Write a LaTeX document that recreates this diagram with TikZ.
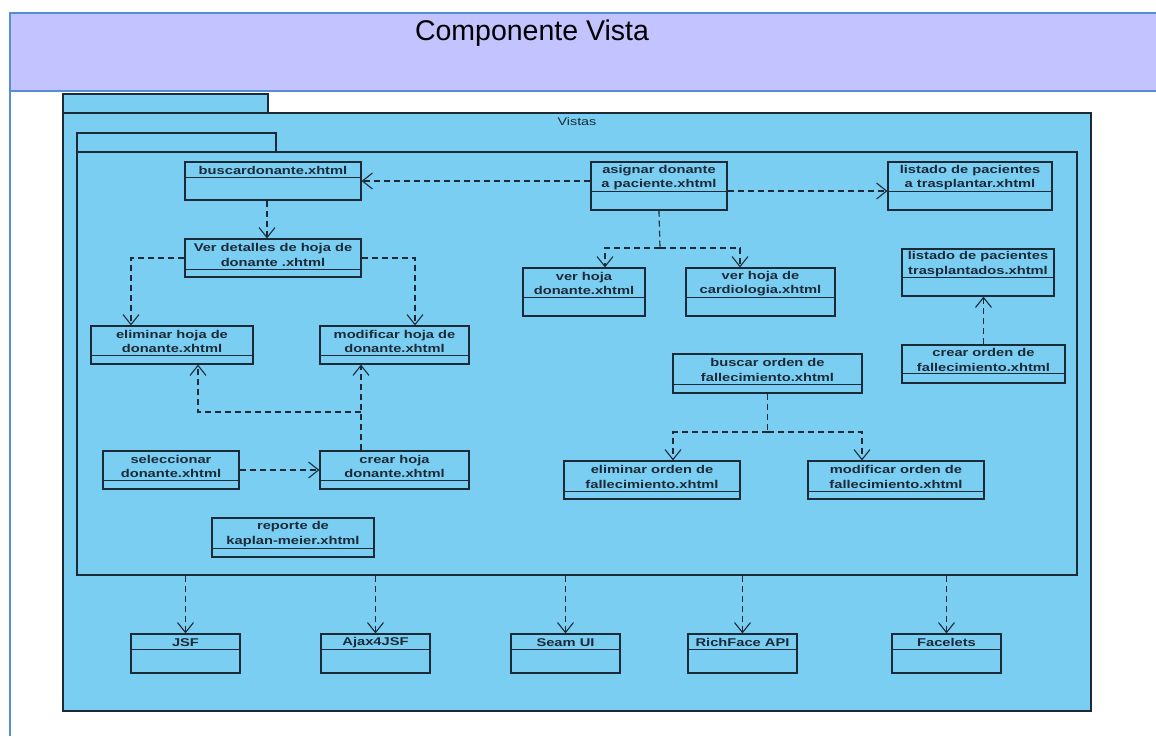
\documentclass[tikz,border=0pt]{standalone}
\usepackage{fontspec}
\setmainfont{Liberation Sans}
\newfontfamily\umlfont{Liberation Sans}[FakeStretch=1.3]
\usetikzlibrary{arrows.meta,fit}

\definecolor{headfill}{RGB}{195,195,255}
\definecolor{headline}{RGB}{85,142,213}
\definecolor{pkgfill}{RGB}{122,206,242}
\definecolor{ink}{RGB}{28,42,56}

\tikzset{
  pkg/.style={draw=ink, fill=pkgfill, line width=1.1pt, inner sep=0pt},
  umlbox/.style={draw=ink, line width=1.2pt, inner sep=0pt},
  divider/.style={draw=ink, line width=1pt},
  classname/.style={font=\umlfont\bfseries\fontsize{11.3}{14.5}\selectfont,
    text=ink, align=center, inner sep=0pt},
  trunk/.style={draw=ink, line width=1.2pt, dash pattern=on 6pt off 4pt},
  dep/.style={trunk, -{Straight Barb[length=10pt,width=16pt,line width=1.1pt]}},
}

% class box: name, x1, y1, x2, y2, divider y, title
\newcommand\umlclass[7]{%
  \node[umlbox, fit={(#2,#3) (#4,#5)}] (#1) {};
  \draw[divider] (#2,#6) -- (#4,#6);
  \node[classname] (#1-name) at ({(#2+#4)/2},{(#3+#6)/2+1.2}) {#7};
}

\begin{document}
\begin{tikzpicture}[x=1pt, y=-1pt]
\useasboundingbox (0,0) rectangle (1156,736);
\fill[white] (0,0) rectangle (1156,736);

% title band
\fill[headfill] (10,12.5) rectangle (1156,91);
\draw[headline, line width=2pt] (1156,12.5) -- (10,12.5) -- (10,736);
\draw[headline, line width=2pt] (10,91) -- (1156,91);
\node[anchor=base, font=\fontsize{28.5}{32}\selectfont, inner sep=0pt] (title) at (532,40) {Componente Vista};

% packages
\node[pkg, fit={(63,94) (268,113)}] (vtab) {};
\node[pkg, fit={(63,113) (1091,711)}] (vistas) {};
\node[font=\umlfont\fontsize{11}{13}\selectfont, text=ink, inner sep=0pt] (vlabel) at (577,122) {Vistas};
\node[pkg, fit={(77,133) (276,152)}] (itab) {};
\node[pkg, fit={(77,152) (1077,575)}] (inner) {};

% classes
\umlclass{bus}{185}{162}{361}{200}{177}{buscardonante.xhtml}
\umlclass{ver}{185}{239}{361}{277}{269}{Ver detalles de hoja de\\donante .xhtml}
\umlclass{elim}{91}{326}{253}{364}{355}{eliminar hoja de\\donante.xhtml}
\umlclass{mod}{320}{326}{469}{364}{355}{modificar hoja de\\donante.xhtml}
\umlclass{asig}{591}{162}{727}{210}{191}{asignar donante\\a paciente.xhtml}
\umlclass{ltr}{888}{162}{1052}{210}{191}{listado de pacientes\\a trasplantar.xhtml}
\umlclass{vhd}{523}{268}{645}{316}{297}{ver hoja\\donante.xhtml}
\umlclass{vhc}{686}{268}{835}{316}{297}{ver hoja de\\cardiologia.xhtml}
\umlclass{ltd}{902}{249}{1054}{296}{277}{listado de pacientes\\trasplantados.xhtml}
\umlclass{cor}{902}{345}{1065}{383}{373}{crear orden de\\fallecimiento.xhtml}
\umlclass{bor}{673}{354}{862}{393}{384}{buscar orden de\\fallecimiento.xhtml}
\umlclass{eor}{564}{461}{740}{499}{491}{eliminar orden de\\fallecimiento.xhtml}
\umlclass{mor}{808}{461}{984}{499}{491}{modificar orden de\\fallecimiento.xhtml}
\umlclass{sel}{103}{451}{239}{489}{480}{seleccionar\\donante.xhtml}
\umlclass{ch}{320}{451}{469}{489}{480}{crear hoja\\donante.xhtml}
\umlclass{rep}{212}{518}{374}{557}{548}{reporte de\\kaplan-meier.xhtml}

\umlclass{jsf}{131}{634}{240}{673}{649}{JSF}
\umlclass{ajax}{321}{634}{430}{673}{649}{Ajax4JSF}
\umlclass{seam}{511}{634}{620}{673}{649}{Seam UI}
\umlclass{rich}{688}{634}{797}{673}{649}{RichFace API}
\umlclass{facelets}{892}{634}{1001}{673}{649}{Facelets}

% dependencies
\draw[dep] (asig.west |- bus.east) -- (bus.east);
\draw[dep] (asig.east |- 0,191) -- (ltr.west |- 0,191);
\draw[dep] (bus.south -| 267,0) -- (ver.north -| 267,0);
\draw[dep] (ver.west) -| (elim.north -| 131,0);
\draw[dep] (ver.east) -| (mod.north -| 415,0);
\draw[dep] (ch.north -| 361,0) -- (mod.south -| 361,0);
\coordinate (chj) at (361,412);
\draw[dep] (chj) -| (elim.south -| 198,0);
\draw[dep] (sel.east) -- (ch.west);

\coordinate (aj) at (660,248);
\draw[trunk] (asig.south) -- (aj);
\draw[dep] (aj) -| (vhd.north -| 605,0);
\draw[dep] (aj) -| (vhc.north -| 740,0);

\draw[dep] (cor.north) -- (ltd.south -| cor.north);

\coordinate (bj) at (767.5,432);
\draw[trunk] (bor.south) -- (bj);
\draw[dep] (bj) -| (eor.north -| 673,0);
\draw[dep] (bj) -| (mor.north -| 862,0);

\foreach \t in {jsf,ajax,seam,rich,facelets}
  \draw[dep] (\t.north |- inner.south) -- (\t.north);
\end{tikzpicture}
\end{document}
